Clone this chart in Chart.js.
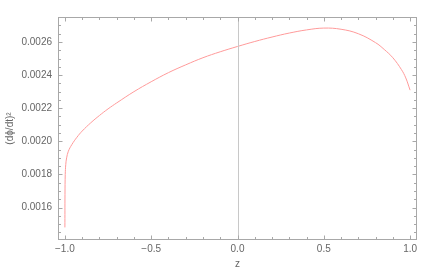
<!DOCTYPE html>
<html>
<head>
<meta charset="utf-8">
<script src="https://cdn.jsdelivr.net/npm/chart.js@4.4.1/dist/chart.umd.min.js"></script>
<style>
  html, body { margin: 0; padding: 0; background: #fff; }
  #wrap { width: 436px; height: 274px; }
</style>
</head>
<body>
<div id="wrap"><canvas id="myChart" width="436" height="274"></canvas></div>
<script>
// ===== data =====
const zValues = [-1.0, -0.9995, -0.998, -0.995, -0.99, -0.98, -0.96, -0.93, -0.9, -0.85, -0.8, -0.75, -0.7,
  -0.6, -0.5, -0.4, -0.3, -0.2, -0.1, 0, 0.1, 0.2, 0.3, 0.4, 0.5, 0.6, 0.7, 0.8, 0.85, 0.9, 0.95, 0.975, 1.0];
const phiDotSq = [0.00148, 0.00168, 0.0018, 0.00186, 0.0019, 0.00194, 0.00198, 0.002025, 0.002062, 0.002112,
  0.002156, 0.002196, 0.002232, 0.0023, 0.00236, 0.002415, 0.002462, 0.002505, 0.002541, 0.002573, 0.002603,
  0.00263, 0.002654, 0.002673, 0.002684, 0.002677, 0.002650, 0.002596, 0.002555, 0.002505, 0.002433, 0.002383,
  0.002309];

const xTicks = [-1, -0.5, 0, 0.5, 1];
const yTicks = [0.0016, 0.0018, 0.002, 0.0022, 0.0024, 0.0026];

const frameColor = "#a8a8a8";
const labelColor = "#666";

// frame, inward ticks and the z=0 axis line (Mathematica style)
const framePlugin = {
  id: "frame",
  afterDraw(chart) {
    const { ctx, chartArea: a, scales } = chart;
    const xs = scales.x, ys = scales.y;
    const L = Math.round(a.left) + 0.5, R = Math.round(a.right) - 0.5;
    const T = Math.round(a.top) + 0.5, B = Math.round(a.bottom) - 0.5;
    ctx.save();
    ctx.lineWidth = 1;

    // axis at z = 0
    const x0 = Math.round(xs.getPixelForValue(0)) + 0.5;
    ctx.strokeStyle = "#c8c8c8";
    ctx.beginPath();
    ctx.moveTo(x0, T);
    ctx.lineTo(x0, B);
    ctx.stroke();

    ctx.strokeStyle = frameColor;
    ctx.strokeRect(L, T, R - L, B - T);

    ctx.beginPath();
    for (let i = -10; i <= 10; i++) {
      const v = i / 10;
      const len = i % 5 === 0 ? 4 : 2.5;
      const px = Math.round(xs.getPixelForValue(v)) + 0.5;
      ctx.moveTo(px, B); ctx.lineTo(px, B - len);
      ctx.moveTo(px, T); ctx.lineTo(px, T + len);
    }
    for (let i = 29; i <= 55; i++) {
      const v = i * 0.00005;
      if (v < ys.min || v > ys.max) continue;
      const len = i % 4 === 0 ? 4 : 2.5;
      const py = Math.round(ys.getPixelForValue(v)) + 0.5;
      ctx.moveTo(L, py); ctx.lineTo(L + len, py);
      ctx.moveTo(R, py); ctx.lineTo(R - len, py);
    }
    ctx.stroke();
    ctx.restore();
  },
};

const canvas = document.getElementById("myChart");
const ctx = canvas.getContext("2d");
const myChart = new Chart(ctx, {
  type: "scatter",
  data: {
    datasets: [
      {
        data: zValues.map((z, i) => ({ x: z, y: phiDotSq[i] })),
        showLine: true,
        borderColor: "#ff9a9a",
        borderWidth: 1,
        pointRadius: 0,
        tension: 0.4,
      },
    ],
  },
  options: {
    responsive: false,
    animation: false,
    layout: { padding: { top: 17, right: 19, left: 0, bottom: 0 } },
    plugins: {
      legend: { display: false },
      tooltip: { enabled: false },
    },
    scales: {
      x: {
        type: "linear",
        min: -1.04,
        max: 1.04,
        afterBuildTicks: (s) => { s.ticks = xTicks.map((v) => ({ value: v })); },
        afterFit: (s) => { s.height = 34; },
        grid: { display: false, drawTicks: false },
        border: { display: false },
        ticks: {
          color: labelColor,
          font: { family: "Liberation Sans", size: 10 },
          padding: 3,
          maxRotation: 0,
          callback: (v) => v.toFixed(1).replace("-", "\u2212"),
        },
        title: {
          display: true,
          text: "z",
          color: labelColor,
          font: { family: "Liberation Sans", size: 10 },
          padding: { top: 0, bottom: 4 },
        },
      },
      y: {
        type: "linear",
        min: 0.001404,
        max: 0.002751,
        afterBuildTicks: (s) => { s.ticks = yTicks.map((v) => ({ value: v })); },
        afterFit: (s) => { s.width = 58; },
        grid: { display: false, drawTicks: false },
        border: { display: false },
        ticks: {
          color: labelColor,
          font: { family: "Liberation Sans", size: 10 },
          padding: 6,
          callback: (v) => v.toFixed(4),
        },
        title: {
          display: true,
          text: "(d\u03D5/dt)\u00B2",
          color: labelColor,
          font: { family: "Liberation Sans", size: 10 },
          padding: { top: 4, bottom: 0 },
        },
      },
    },
  },
  plugins: [framePlugin],
});
</script>
</body>
</html>
